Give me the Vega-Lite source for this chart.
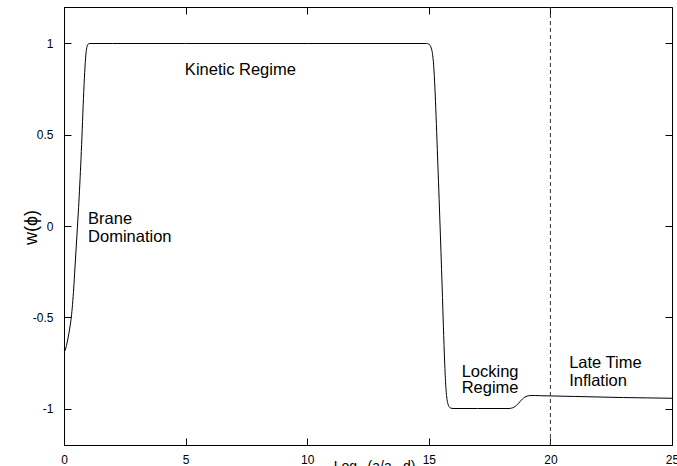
{
  "$schema": "https://vega.github.io/schema/vega-lite/v6.json",
  "width": 608,
  "height": 438,
  "autosize": {"type": "none"},
  "padding": {"left": 64, "top": 7, "right": 5, "bottom": 21},
  "background": "white",
  "config": {
    "view": {"stroke": "black", "strokeWidth": 1},
    "axis": {
      "grid": false,
      "labelFont": "Liberation Sans",
      "labelFontSize": 12,
      "labelColor": "black",
      "titleFont": "Liberation Sans",
      "titleColor": "black",
      "titleFontWeight": "normal",
      "domainColor": "black",
      "tickColor": "black",
      "tickSize": -7
    }
  },
  "datasets": {
    "curve": [
      {"x": 0, "w": -0.69}, {"x": 0.05, "w": -0.68}, {"x": 0.1, "w": -0.655}, {"x": 0.15, "w": -0.625},
      {"x": 0.2, "w": -0.59}, {"x": 0.25, "w": -0.548}, {"x": 0.3, "w": -0.5}, {"x": 0.35, "w": -0.43},
      {"x": 0.4, "w": -0.34}, {"x": 0.45, "w": -0.23}, {"x": 0.5, "w": -0.12}, {"x": 0.55, "w": -0.01},
      {"x": 0.6, "w": 0.1}, {"x": 0.65, "w": 0.23}, {"x": 0.7, "w": 0.37}, {"x": 0.75, "w": 0.53},
      {"x": 0.8, "w": 0.7}, {"x": 0.85, "w": 0.84}, {"x": 0.9, "w": 0.94}, {"x": 0.95, "w": 0.985},
      {"x": 1.0, "w": 0.998}, {"x": 1.05, "w": 1.0}, {"x": 2, "w": 1.0}, {"x": 5, "w": 1.0},
      {"x": 10, "w": 1.0}, {"x": 14.9, "w": 1.0}, {"x": 15.0, "w": 0.997}, {"x": 15.05, "w": 0.99},
      {"x": 15.1, "w": 0.975}, {"x": 15.15, "w": 0.945}, {"x": 15.2, "w": 0.88}, {"x": 15.25, "w": 0.76},
      {"x": 15.3, "w": 0.6}, {"x": 15.35, "w": 0.42}, {"x": 15.4, "w": 0.24}, {"x": 15.45, "w": 0.05},
      {"x": 15.5, "w": -0.14}, {"x": 15.55, "w": -0.34}, {"x": 15.6, "w": -0.55}, {"x": 15.65, "w": -0.74},
      {"x": 15.7, "w": -0.88}, {"x": 15.75, "w": -0.95}, {"x": 15.8, "w": -0.98}, {"x": 15.85, "w": -0.993},
      {"x": 15.9, "w": -0.998}, {"x": 16, "w": -1.0}, {"x": 17, "w": -1.0}, {"x": 18.3, "w": -1.0},
      {"x": 18.4, "w": -0.998}, {"x": 18.5, "w": -0.993}, {"x": 18.6, "w": -0.983}, {"x": 18.7, "w": -0.97},
      {"x": 18.8, "w": -0.955}, {"x": 18.9, "w": -0.942}, {"x": 19.0, "w": -0.934}, {"x": 19.1, "w": -0.93},
      {"x": 19.2, "w": -0.929}, {"x": 19.4, "w": -0.929}, {"x": 19.6, "w": -0.93}, {"x": 20, "w": -0.931},
      {"x": 21, "w": -0.934}, {"x": 22, "w": -0.937}, {"x": 23, "w": -0.94}, {"x": 24, "w": -0.942},
      {"x": 25, "w": -0.944}
    ],
    "labels": [
      {"x": 4.97, "w": 0.826, "label": "Kinetic Regime"},
      {"x": 0.99, "w": 0.012, "label": "Brane"},
      {"x": 0.99, "w": -0.087, "label": "Domination"},
      {"x": 16.35, "w": -0.826, "label": "Locking"},
      {"x": 16.35, "w": -0.917, "label": "Regime"},
      {"x": 20.77, "w": -0.776, "label": "Late Time"},
      {"x": 20.77, "w": -0.875, "label": "Inflation"}
    ],
    "marker": [{"x": 20}]
  },
  "layer": [
    {
      "data": {"name": "curve"},
      "mark": {"type": "line", "color": "black", "strokeWidth": 1, "interpolate": "monotone"},
      "encoding": {
        "x": {
          "field": "x", "type": "quantitative",
          "scale": {"domain": [0, 25], "nice": false, "zero": false},
          "axis": {
            "orient": "bottom", "values": [0, 5, 10, 15, 20, 25],
            "labelPadding": 16, "labelFlush": false,
            "title": "Log₁₀(a/aₑₙd)", "titleFontSize": 14, "titleY": 14, "titleBaseline": "top", "titleX": 310
          }
        },
        "y": {
          "field": "w", "type": "quantitative",
          "scale": {"domain": [-1.2, 1.2], "nice": false, "zero": false},
          "axis": {
            "orient": "left", "values": [-1, -0.5, 0, 0.5, 1],
            "labelPadding": 18, "labelFlush": false, "format": "~g",
            "labelExpr": "replace(datum.label, '−', '-')",
            "title": "w(ϕ)", "titleFontSize": 18,
            "titleX": -33, "titleY": 220, "titleBaseline": "middle", "titleAlign": "center", "titleAngle": -90
          }
        }
      }
    },
    {
      "data": {"name": "marker"},
      "mark": {"type": "rule", "color": "#333333", "strokeWidth": 1, "strokeDash": [4, 3]},
      "encoding": {
        "x": {"field": "x", "type": "quantitative", "axis": null}
      }
    },
    {
      "data": {"name": "labels"},
      "mark": {"type": "text", "align": "left", "baseline": "alphabetic", "font": "Liberation Sans", "fontSize": 16.5, "color": "black"},
      "encoding": {
        "x": {
          "field": "x", "type": "quantitative",
          "axis": {"orient": "top", "values": [0, 5, 10, 15, 20, 25], "labels": false, "title": null, "domain": false}
        },
        "y": {
          "field": "w", "type": "quantitative",
          "axis": {"orient": "right", "values": [-1, -0.5, 0, 0.5, 1], "labels": false, "title": null, "domain": false}
        },
        "text": {"field": "label"}
      }
    }
  ],
  "resolve": {"axis": {"x": "independent", "y": "independent"}}
}
